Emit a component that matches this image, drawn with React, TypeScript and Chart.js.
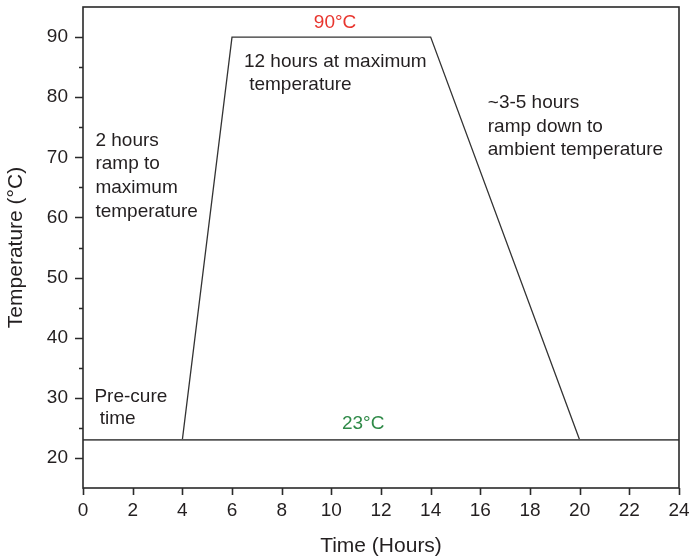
import React, { useEffect, useRef } from 'react';
import { Chart, registerables } from 'chart.js';

Chart.register(...registerables);

// ---- data ----
const profileTime = [4, 6, 14, 20];
const profileTemp = [23, 90, 90, 23];
const ambientTime = [0, 24];
const ambientTemp = [23, 23];
const xTickValues = [0, 2, 4, 6, 8, 10, 12, 14, 16, 18, 20, 22, 24];
const yMajorTicks = [20, 30, 40, 50, 60, 70, 80, 90];
const yMinorTicks = [25, 35, 45, 55, 65, 75, 85];

const xTitle = 'Time (Hours)';
const yTitle = 'Temperature (°C)';

// annotation texts (anchored in data units)
const noteTexts = [
  '90°C',
  '12 hours at maximum',
  ' temperature',
  '~3-5 hours',
  'ramp down to',
  'ambient temperature',
  '2 hours',
  'ramp to',
  'maximum',
  'temperature',
  'Pre-cure',
  ' time',
  '23°C',
];
const noteX = [10.15, 6.48, 6.48, 16.3, 16.3, 16.3, 0.5, 0.5, 0.5, 0.5, 0.46, 0.46, 11.28];
const noteY = [92.34, 85.85, 82.03, 79.0, 75.04, 71.22, 72.71, 68.88, 64.9, 60.95, 30.19, 26.48, 25.64];
const noteAlign: CanvasTextAlign[] = ['center', 'left', 'left', 'left', 'left', 'left', 'left', 'left', 'left', 'left', 'left', 'left', 'center'];
const noteColor = ['#e8352e', '#231f20', '#231f20', '#231f20', '#231f20', '#231f20', '#231f20', '#231f20', '#231f20', '#231f20', '#231f20', '#231f20', '#2f8a48'];

const FONT = '"Liberation Sans", Arial, Helvetica, sans-serif';
const INK = '#231f20';

const framePlugin = {
  id: 'frameAndNotes',
  afterDraw(chart: any) {
    const { ctx, chartArea, scales } = chart;
    const { left, right, top, bottom } = chartArea;
    const xs = scales.x;
    const ys = scales.y;
    ctx.save();
    ctx.strokeStyle = '#2a2a2a';
    ctx.lineWidth = 1.6;
    ctx.strokeRect(left, top, right - left, bottom - top);
    ctx.beginPath();
    yMajorTicks.forEach((v) => {
      const py = Math.round(ys.getPixelForValue(v)) + 0.5;
      ctx.moveTo(left - 8, py);
      ctx.lineTo(left, py);
    });
    yMinorTicks.forEach((v) => {
      const py = Math.round(ys.getPixelForValue(v)) + 0.5;
      ctx.moveTo(left - 4, py);
      ctx.lineTo(left, py);
    });
    xTickValues.forEach((v) => {
      const px = Math.round(xs.getPixelForValue(v)) + 0.5;
      ctx.moveTo(px, bottom);
      ctx.lineTo(px, bottom + 7);
    });
    ctx.stroke();

    ctx.font = '19px ' + FONT;
    ctx.textBaseline = 'middle';
    noteTexts.forEach((t, i) => {
      ctx.fillStyle = noteColor[i];
      ctx.textAlign = noteAlign[i];
      ctx.fillText(t, xs.getPixelForValue(noteX[i]), ys.getPixelForValue(noteY[i]));
    });
    ctx.restore();
  },
};

const zeroPad = (s: any) => {
  s.paddingTop = 0;
  s.paddingBottom = 0;
  s.paddingLeft = 0;
  s.paddingRight = 0;
};

export default function App() {
  const canvasRef = useRef<HTMLCanvasElement | null>(null);

  useEffect(() => {
    document.body.style.margin = '0';
    const canvas = canvasRef.current;
    if (!canvas) return;
    const chart = new Chart(canvas, {
      type: 'line',
      data: {
        datasets: [
          {
            label: 'Ambient',
            data: ambientTime.map((t, i) => ({ x: t, y: ambientTemp[i] })),
            borderColor: '#555555',
            borderWidth: 1.6,
            pointRadius: 0,
            fill: false,
            tension: 0,
          },
          {
            label: 'Cure profile',
            data: profileTime.map((t, i) => ({ x: t, y: profileTemp[i] })),
            borderColor: '#333333',
            borderWidth: 1.3,
            pointRadius: 0,
            fill: false,
            tension: 0,
          },
        ],
      },
      options: {
        animation: false,
        responsive: true,
        maintainAspectRatio: false,
        layout: { padding: { top: 7, right: 11, left: 0, bottom: 0 } },
        plugins: {
          legend: { display: false },
          tooltip: { enabled: false },
        },
        scales: {
          x: {
            type: 'linear',
            min: 0,
            max: 24,
            afterBuildTicks: (s: any) => {
              s.ticks = xTickValues.map((v) => ({ value: v }));
            },
            afterFit: (s: any) => {
              s.height = 71;
              zeroPad(s);
            },
            grid: { display: false, drawTicks: false },
            border: { display: false },
            ticks: {
              color: INK,
              font: { family: FONT, size: 19 },
              padding: 11,
              maxRotation: 0,
              autoSkip: false,
            },
            title: {
              display: true,
              text: xTitle,
              color: INK,
              font: { family: FONT, size: 21 },
              padding: { top: 0, bottom: 0 },
            },
          },
          y: {
            type: 'linear',
            min: 15,
            max: 95,
            afterBuildTicks: (s: any) => {
              s.ticks = yMajorTicks.map((v) => ({ value: v }));
            },
            afterFit: (s: any) => {
              s.width = 83;
              zeroPad(s);
            },
            grid: { display: false, drawTicks: false },
            border: { display: false },
            ticks: {
              color: INK,
              font: { family: FONT, size: 19 },
              padding: 15,
              autoSkip: false,
            },
            title: {
              display: true,
              text: yTitle,
              color: INK,
              font: { family: FONT, size: 21 },
              padding: { top: 4, bottom: 0 },
            },
          },
        },
      },
      plugins: [framePlugin],
    });
    return () => chart.destroy();
  }, []);

  return (
    <div style={{ width: 690, height: 559, position: 'relative', background: '#ffffff' }}>
      <canvas ref={canvasRef} />
    </div>
  );
}
